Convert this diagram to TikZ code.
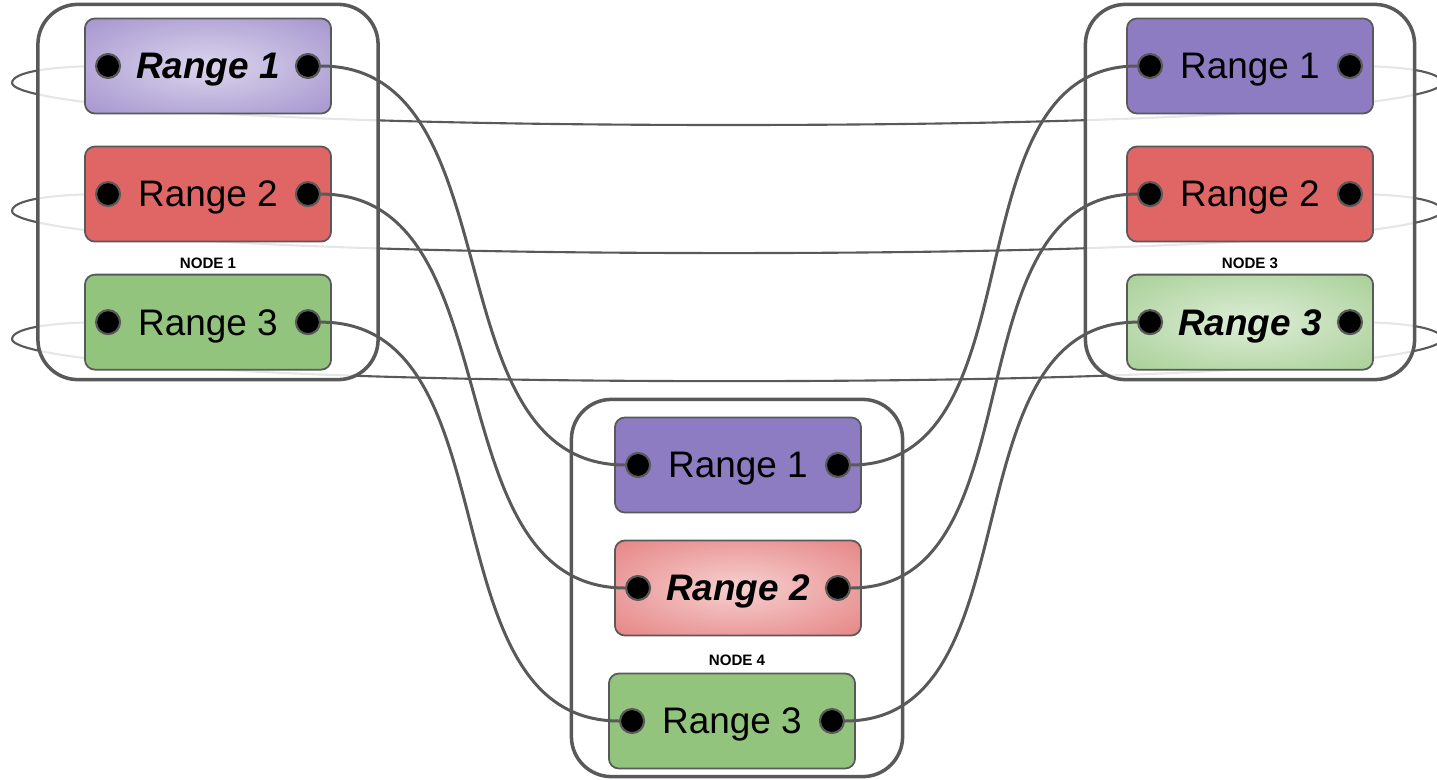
\documentclass[tikz,border=0pt]{standalone}
\usepackage{fontspec}
\setmainfont{Liberation Sans}
\usetikzlibrary{calc,backgrounds}
\definecolor{rangepurple}{HTML}{8E7CC3}
\definecolor{rangered}{HTML}{E06666}
\definecolor{rangegreen}{HTML}{93C47D}
\definecolor{purplelight}{HTML}{DCD4EC}
\definecolor{redlight}{HTML}{F6D0D0}
\definecolor{greenlight}{HTML}{DDEDD7}
\definecolor{edge}{HTML}{595959}
% glowing fill for the range that is being read
\pgfdeclareradialshading{glowpurple}{\pgfpointorigin}{color(0bp)=(purplelight); color(50bp)=(rangepurple)}
\pgfdeclareradialshading{glowred}{\pgfpointorigin}{color(0bp)=(redlight); color(50bp)=(rangered)}
\pgfdeclareradialshading{glowgreen}{\pgfpointorigin}{color(0bp)=(greenlight); color(50bp)=(rangegreen)}
\tikzset{%
	% Specifications for style of nodes:
	host/.style = {rectangle, rounded corners=0.4cm, draw=edge, line width=1pt,
	fill=white, fill opacity=0.85},
	hostlabel/.style = {font=\fontsize{4.3}{5}\selectfont\bfseries},
	rangebox/.style = {rectangle, rounded corners=0.1cm, draw=edge, line width=0.5pt,
	minimum width=2.46cm, minimum height=0.95cm, inner sep=0pt, text depth=0pt,
	font=\fontsize{10.5}{12}\selectfont},
	hotbox/.style = {rangebox, font=\fontsize{10.5}{12}\selectfont\bfseries\itshape},
	rng1/.style = {rangebox, fill=rangepurple},
	rng2/.style = {rangebox, fill=rangered},
	rng3/.style = {rangebox, fill=rangegreen},
	rng1hot/.style = {hotbox, shade, shading=glowpurple},
	rng2hot/.style = {hotbox, shade, shading=glowred},
	rng3hot/.style = {hotbox, shade, shading=glowgreen},
	port/.style = {circle, draw=edge, fill=black, line width=0.6pt,
	minimum size=0.24cm, inner sep=0pt},
	% Specifications for style of links:
	wire/.style = {draw=edge, line width=0.85pt},
	ring/.style = {draw=edge, line width=0.6pt}
}

\begin{document}
\begin{tikzpicture}[x=0.01cm, y=-0.01cm, node distance=1.28cm]
	\useasboundingbox (0,0) rectangle (1437,779);
	
	% Hosts
	\node (host1) [host, minimum width=3.40cm, minimum height=3.75cm] at (208,192) {};
	\node (host3) [host, minimum width=3.29cm, minimum height=3.75cm] at (1250,192) {};
	\node (host4) [host, minimum width=3.31cm, minimum height=3.77cm] at (737,588) {};
	
	\node (lab1) [hostlabel] at (208,263) {NODE 1};
	\node (lab3) [hostlabel] at (1250,263) {NODE 3};
	\node (lab4) [hostlabel] at (737,660) {NODE 4};
	
	% Ranges
	\node (n1a) [rng1hot] at (208,66) {Range 1};
	\node (n1b) [rng2, below of=n1a] {Range 2};
	\node (n1c) [rng3, below of=n1b] {Range 3};
	
	\node (n3a) [rng1] at (1250,66) {Range 1};
	\node (n3b) [rng2, below of=n3a] {Range 2};
	\node (n3c) [rng3hot, below of=n3b] {Range 3};
	
	\node (n4a) [rng1] at (738,465) {Range 1};
	\node (n4b) [rng2hot] at (738,588) {Range 2};
	\node (n4c) [rng3] at (732,721) {Range 3};
	
	% Ports on both ends of every range
	\foreach \n in {n1a,n1b,n1c,n3a,n3b,n3c,n4a,n4b,n4c} {
		\node (\n-l) [port, xshift=0.24cm] at (\n.west) {};
		\node (\n-r) [port, xshift=-0.24cm] at (\n.east) {};
	}
	
	% Replica links
	\draw[wire] (n1a-r) to[out=0,in=180] (n4a-l);
	\draw[wire] (n1b-r) to[out=0,in=180] (n4b-l);
	\draw[wire] (n1c-r) to[out=0,in=180] (n4c-l);
	\draw[wire] (n4a-r) to[out=0,in=180] (n3a-l);
	\draw[wire] (n4b-r) to[out=0,in=180] (n3b-l);
	\draw[wire] (n4c-r) to[out=0,in=180] (n3c-l);
	
	% Links going round the back
	\begin{scope}[on background layer]
		\foreach \r in {a,b,c}
		\draw[ring] (n1\r-l.center) .. controls +(-58,0) and +(0,-11) .. ($(n1\r-l.center)+(-96,17)$)
		.. controls +(0,17) and +(-528,0) .. ($(n1\r-l.center)!0.5!(n3\r-r.center)+(0,59)$)
		.. controls +(528,0) and +(0,17) .. ($(n3\r-r.center)+(92,17)$)
		.. controls +(0,-11) and +(56,0) .. (n3\r-r.center);
	\end{scope}
	
\end{tikzpicture}
\end{document}
